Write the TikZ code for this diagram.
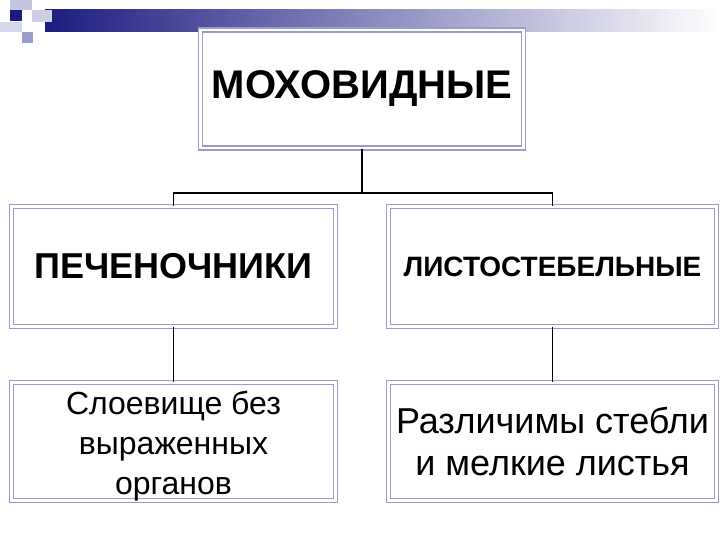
\documentclass[tikz,border=0pt]{standalone}
\usepackage{fontspec}
\setmainfont{Liberation Sans}
\begin{document}
\begin{tikzpicture}[x=1pt,y=-1pt,
 box/.style={draw=boxc,double=white,double distance=2.5pt,line width=1.6pt,fill=white,inner sep=0pt,align=center},
 lk/.style={line width=1.5pt}]
\definecolor{boxc}{HTML}{9C9CCC}
\definecolor{navy}{HTML}{1C1C80}
\useasboundingbox (0,0) rectangle (720,540);
% header decoration
\shade[left color=navy,right color=white] (45,10) rectangle (720,32);
\fill[boxc!60] (10,0) rectangle (32,10);
\fill[boxc!50] (32,10) rectangle (52,22);
\fill[navy] (10,10) rectangle (22,21);
\fill[boxc] (22,32) rectangle (33,43);
\fill[boxc!40] (0,22) rectangle (22,32);
% boxes
\node[box, minimum width=323pt, minimum height=118pt, font=\fontsize{40}{44}\selectfont\bfseries] (top) at (362,89) {МОХОВИДНЫЕ};
\node[box, minimum width=324pt, minimum height=120pt, font=\fontsize{36}{40}\selectfont\bfseries] (l1) at (173.5,266.5) {ПЕЧЕНОЧНИКИ};
\node[box, minimum width=328pt, minimum height=120pt, font=\fontsize{28}{32}\selectfont\bfseries] (r1) at (552.5,266.5) {ЛИСТОСТЕБЕЛЬНЫЕ};
\node[box, minimum width=324pt, minimum height=118pt, text depth=100pt-\baselineskip*2-25pt, font=\fontsize{32}{40}\selectfont] (l2) at (173.5,441.5) {\raisebox{-7pt}{\begin{tabular}{@{}c@{}}Слоевище без\\выраженных\\органов\end{tabular}}};
\node[box, minimum width=328pt, minimum height=118pt, font=\fontsize{36}{42}\selectfont] (r2) at (552.5,441.5) {Различимы стебли\\и мелкие листья};
% connectors
\coordinate (j) at (363,193);
\draw[lk] (top.south) -- (top.south |- j);
\draw[lk] (l1.north) -- (l1.north |- j) -- (r1.north |- j) -- (r1.north);
\draw[lk] (l1.south) -- (l2.north);
\draw[lk] (r1.south) -- (r2.north);
\end{tikzpicture}
\end{document}
